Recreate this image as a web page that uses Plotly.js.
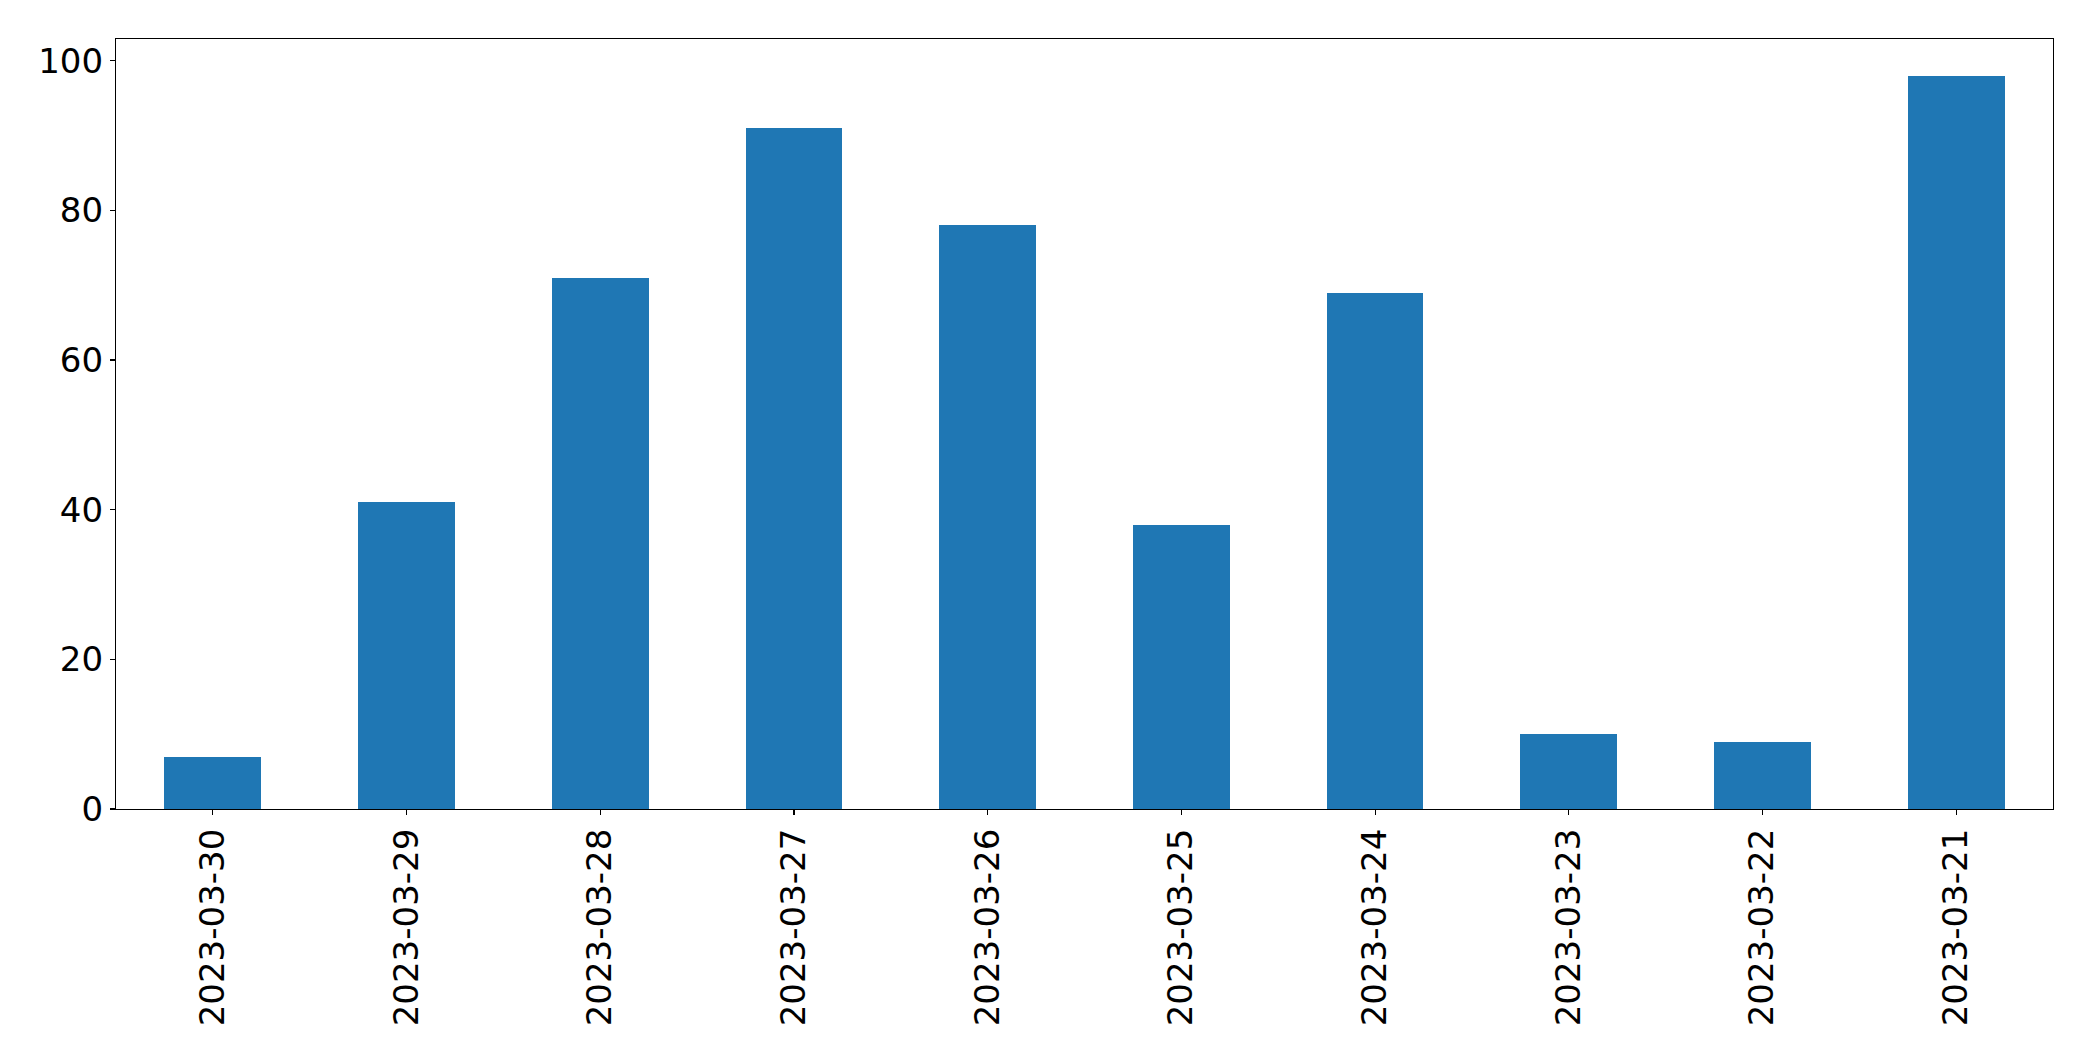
<!DOCTYPE html>
<html>
<head>
<meta charset="utf-8">
<script src="https://cdn.plot.ly/plotly-3.0.1.min.js"></script>
<style>
  html, body { margin: 0; padding: 0; background: #ffffff; }
  #chart { width: 2093px; height: 1061px; }
</style>
</head>
<body>
<div id="chart"></div>
<script>
const categories = ["2023-03-30", "2023-03-29", "2023-03-28", "2023-03-27", "2023-03-26",
                    "2023-03-25", "2023-03-24", "2023-03-23", "2023-03-22", "2023-03-21"];
const values = [7, 41, 71, 91, 78, 38, 69, 10, 9, 98];
const yTicks = [0, 20, 40, 60, 80, 100];

const trace = {
  type: "bar",
  x: categories,
  y: values,
  width: 0.5,
  marker: { color: "#1f77b4", line: { width: 0 } },
  hoverinfo: "x+y"
};

const font = { family: "DejaVu Sans, sans-serif", size: 34, color: "#000000" };

const layout = {
  width: 2093,
  height: 1061,
  margin: { l: 116, r: 40, t: 39, b: 252, pad: 0 },
  paper_bgcolor: "#ffffff",
  plot_bgcolor: "#ffffff",
  showlegend: false,
  font: font,
  bargap: 0,
  xaxis: {
    type: "category",
    range: [-0.5, categories.length - 0.5],
    tickangle: -90,
    ticks: "outside",
    ticklen: 5,
    tickwidth: 1.1,
    tickcolor: "#000000",
    showline: true,
    linecolor: "#000000",
    linewidth: 1.1,
    mirror: true,
    showgrid: false,
    zeroline: false,
    tickfont: font,
    automargin: false
  },
  yaxis: {
    range: [0, 102.9],
    tickmode: "array",
    tickvals: yTicks,
    ticktext: yTicks.map(String),
    ticks: "outside",
    ticklen: 5,
    tickwidth: 1.1,
    tickcolor: "#000000",
    showline: true,
    linecolor: "#000000",
    linewidth: 1.1,
    mirror: true,
    showgrid: false,
    zeroline: false,
    tickfont: font,
    automargin: false
  }
};

Plotly.newPlot("chart", [trace], layout, { staticPlot: true, displayModeBar: false });
</script>
</body>
</html>
